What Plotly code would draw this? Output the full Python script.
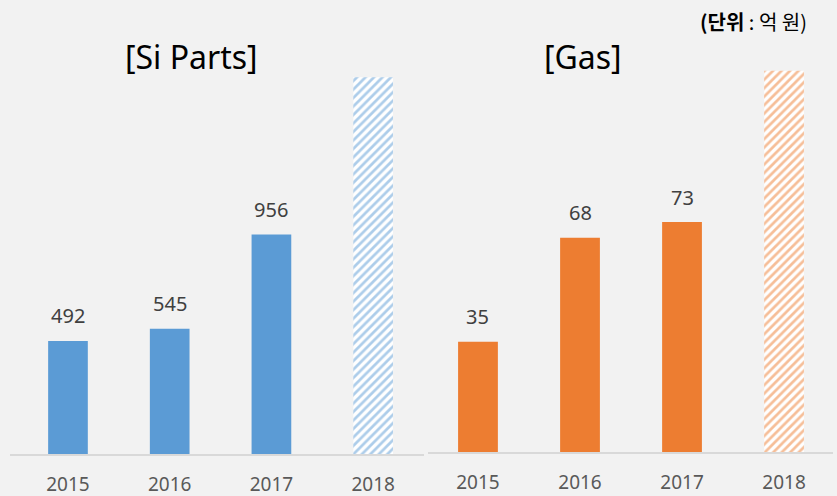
import plotly.graph_objects as go

years = ["2015", "2016", "2017", "2018"]
si_values = [492, 545, 956, 1640]
gas_values = [35, 68, 73, 121]
si_labels = ["492", "545", "956", ""]
gas_labels = ["35", "68", "73", ""]
titles = ["[Si Parts]", "[Gas]"]
unit_text = "<b>(단위</b> : 억 원)"

BLUE = "#5b9bd5"
ORANGE = "#ed7d31"
BG = "#f2f2f2"
W, H = 837, 496

fig = go.Figure()

def add_panel(values, labels, color, xa, ya):
    # actual years (solid)
    fig.add_trace(go.Bar(
        x=years[:3], y=values[:3], xaxis=xa, yaxis=ya, width=0.39,
        marker=dict(color=color, line=dict(width=0)),
        showlegend=False, hoverinfo="skip",
    ))
    # forecast year (hatched)
    fig.add_trace(go.Bar(
        x=years[3:], y=values[3:], xaxis=xa, yaxis=ya, width=0.39,
        marker=dict(color="white", line=dict(width=0),
                    pattern=dict(shape="/", fgcolor=color, bgcolor="white",
                                 size=6, solidity=0.45, fillmode="overlay")),
        showlegend=False, hoverinfo="skip",
    ))
    for i, (v, lab) in enumerate(zip(values, labels)):
        if lab:
            fig.add_annotation(x=i, y=v, xref=xa, yref=ya, text=lab,
                               showarrow=False, yanchor="middle", yshift=25,
                               font=dict(size=20, color="#404040", family="Noto Sans"))

add_panel(si_values, si_labels, BLUE, "x", "y")
add_panel(gas_values, gas_labels, ORANGE, "x2", "y2")

axis_common = dict(type="category", categoryorder="array", categoryarray=years,
                   showgrid=False, zeroline=False, automargin=False,
                   showline=True, linecolor="#d9d9d9", linewidth=2,
                   ticks="", tickfont=dict(size=19, color="#595959", family="Noto Sans"),
                   ticklabelstandoff=12, fixedrange=True)

fig.update_layout(
    width=W, height=H,
    paper_bgcolor=BG, plot_bgcolor=BG,
    margin=dict(l=0, r=0, t=0, b=0),
    barmode="overlay",
    xaxis=dict(domain=[10 / W, 424 / W], range=[-0.57, 3.5], anchor="y", **axis_common),
    xaxis2=dict(domain=[428 / W, 833 / W], range=[-0.49, 3.48], anchor="y2", **axis_common),
    yaxis=dict(domain=[(H - 454) / H, 1], range=[0, 454 / 0.2297], visible=False,
               showgrid=False, zeroline=False, fixedrange=True, automargin=False),
    yaxis2=dict(domain=[(H - 452) / H, 1], range=[0, 452 / 3.15], visible=False,
                showgrid=False, zeroline=False, fixedrange=True, automargin=False),
)

fig.add_annotation(x=191 / W, y=1 - 56 / H, xref="paper", yref="paper", text=titles[0],
                   showarrow=False, xanchor="center", yanchor="middle",
                   font=dict(size=32, color="#000000", family="Noto Sans"))
fig.add_annotation(x=583 / W, y=1 - 56 / H, xref="paper", yref="paper", text=titles[1],
                   showarrow=False, xanchor="center", yanchor="middle",
                   font=dict(size=32, color="#000000", family="Noto Sans"))
fig.add_annotation(x=809 / W, y=1 - 21 / H, xref="paper", yref="paper", text=unit_text,
                   showarrow=False, xanchor="right", yanchor="middle",
                   font=dict(size=20, color="#000000", family="Noto Sans CJK KR"))

fig.write_html("out.html", config={"displayModeBar": False},
               post_script="document.body.style.margin='0';")
